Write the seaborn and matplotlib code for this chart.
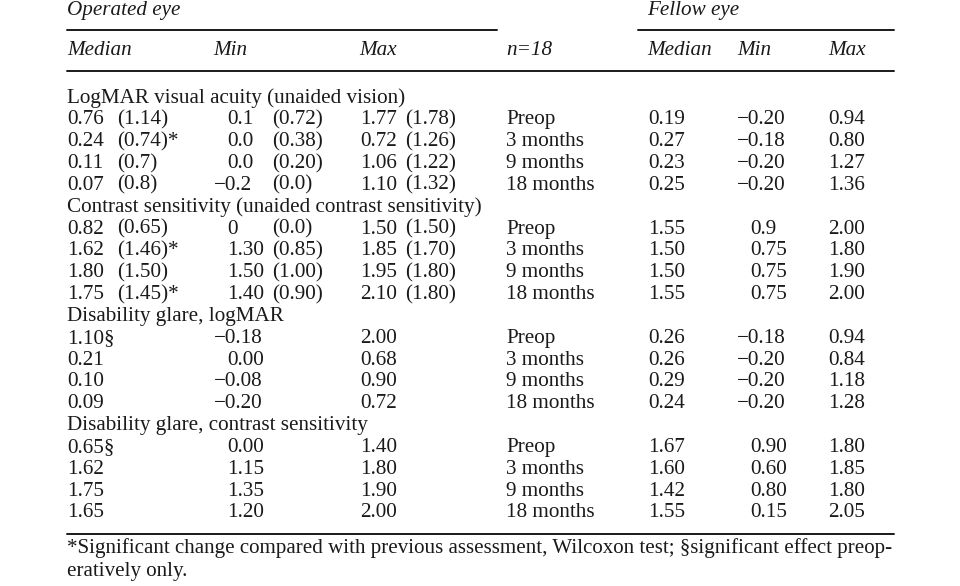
# Visualización
# ------------------------------------------------------------------------------
import seaborn as sns
import matplotlib.pyplot as plt

# Datos de la tabla
# ------------------------------------------------------------------------------
grupos = ["Operated eye", "Fellow eye"]
cabeceras = ["Median", "Min", "Max", "n=18", "Median", "Min", "Max"]

secciones = ["LogMAR visual acuity (unaided vision)",
             "Contrast sensitivity (unaided contrast sensitivity)",
             "Disability glare, logMAR",
             "Disability glare, contrast sensitivity"]

momentos = ["Preop", "3 months", "9 months", "18 months"]

# Ojo operado (valor y valor entre paréntesis)
op_mediana = ["0.76", "0.24", "0.11", "0.07",
              "0.82", "1.62", "1.80", "1.75",
              "1.10§", "0.21", "0.10", "0.09",
              "0.65§", "1.62", "1.75", "1.65"]
op_mediana_par = ["(1.14)", "(0.74)*", "(0.7)", "(0.8)",
                  "(0.65)", "(1.46)*", "(1.50)", "(1.45)*",
                  "", "", "", "",
                  "", "", "", ""]
op_min = ["0.1", "0.0", "0.0", "−0.2",
          "0", "1.30", "1.50", "1.40",
          "−0.18", "0.00", "−0.08", "−0.20",
          "0.00", "1.15", "1.35", "1.20"]
op_min_par = ["(0.72)", "(0.38)", "(0.20)", "(0.0)",
              "(0.0)", "(0.85)", "(1.00)", "(0.90)",
              "", "", "", "",
              "", "", "", ""]
op_max = ["1.77", "0.72", "1.06", "1.10",
          "1.50", "1.85", "1.95", "2.10",
          "2.00", "0.68", "0.90", "0.72",
          "1.40", "1.80", "1.90", "2.00"]
op_max_par = ["(1.78)", "(1.26)", "(1.22)", "(1.32)",
              "(1.50)", "(1.70)", "(1.80)", "(1.80)",
              "", "", "", "",
              "", "", "", ""]

# Ojo contralateral
fe_mediana = ["0.19", "0.27", "0.23", "0.25",
              "1.55", "1.50", "1.50", "1.55",
              "0.26", "0.26", "0.29", "0.24",
              "1.67", "1.60", "1.42", "1.55"]
fe_min = ["−0.20", "−0.18", "−0.20", "−0.20",
          "0.9", "0.75", "0.75", "0.75",
          "−0.18", "−0.20", "−0.20", "−0.20",
          "0.90", "0.60", "0.80", "0.15"]
fe_max = ["0.94", "0.80", "1.27", "1.36",
          "2.00", "1.80", "1.90", "2.00",
          "0.94", "0.84", "1.18", "1.28",
          "1.80", "1.85", "1.80", "2.05"]

nota = ["*Significant change compared with previous assessment, Wilcoxon test; §significant effect preop-",
        "eratively only."]

# Estilo
# ------------------------------------------------------------------------------
sns.set_style("white")
plt.rcParams["font.family"] = ["Liberation Serif", "DejaVu Serif"]
tam = 15.2
color = "#1a1a1a"
ancho_menos = 13

fig = plt.figure(figsize=(9.6, 5.86), dpi=100)
ax = fig.add_axes([0, 0, 1, 1])
ax.set_xlim(0, 960)
ax.set_ylim(586, 0)
ax.axis("off")


def poner(x, y, s, **kw):
    # los negativos cuelgan el signo menos a la izquierda
    if s.startswith("−"):
        x = x - ancho_menos
    ax.text(x, y, s, fontsize=tam, color=color, va="baseline", ha="left", **kw)


# Cabecera
ax.text(67, 15, grupos[0], fontsize=tam, style="italic", color=color, va="baseline")
ax.text(647, 15, grupos[1], fontsize=tam, style="italic", color=color, va="baseline")
ax.plot([67, 497], [30, 30], color=color, lw=1.4)
ax.plot([638, 894], [30, 30], color=color, lw=1.4)
for x, cab in zip([67, 213, 359, 506, 647, 737, 828], cabeceras):
    ax.text(x, 55, cab, fontsize=tam, style="italic", color=color, va="baseline")
ax.plot([67, 894], [71, 71], color=color, lw=1.4)

# Cuerpo
paso = 21.84
base0 = 102.5
linea = 0
for s, seccion in enumerate(secciones):
    poner(67, base0 + linea * paso, seccion)
    linea += 1
    for m, momento in enumerate(momentos):
        i = s * 4 + m
        y = base0 + linea * paso
        poner(67, y, op_mediana[i])
        poner(117, y, op_mediana_par[i])
        poner(227, y, op_min[i])
        poner(272, y, op_min_par[i])
        poner(360, y, op_max[i])
        poner(405, y, op_max_par[i])
        poner(506, y, momento)
        poner(648, y, fe_mediana[i])
        poner(750, y, fe_min[i])
        poner(828, y, fe_max[i])
        linea += 1

ax.plot([67, 894], [534, 534], color=color, lw=1.4)

# Nota al pie
ax.text(67, 553, nota[0], fontsize=15.1, color=color, va="baseline")
ax.text(67, 576, nota[1], fontsize=15.1, color=color, va="baseline")

fig.savefig("out.png", dpi=100, facecolor="white")
